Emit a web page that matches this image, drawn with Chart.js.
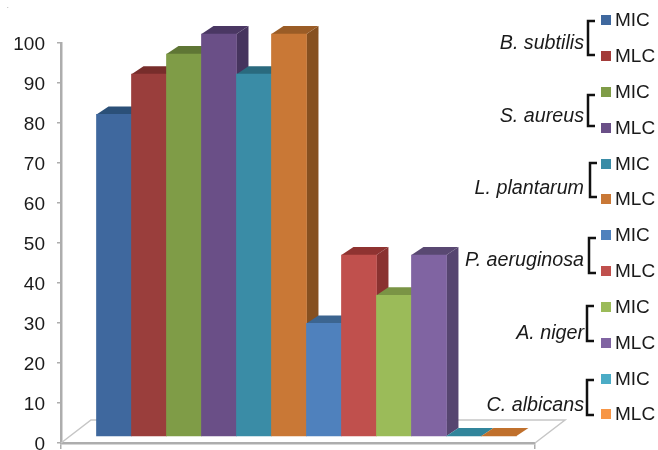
<!DOCTYPE html>
<html>
<head>
<meta charset="utf-8">
<title>MIC and MLC by organism</title>
<style>
  html, body { margin: 0; padding: 0; background: #fff; }
  canvas { display: block; }
</style>
<script src="https://cdn.jsdelivr.net/npm/chart.js@4"></script>
</head>
<body>
<canvas id="chart" width="658" height="450"></canvas>
<script>
// Activity of the extract against six organisms, two measures per organism.
const organisms = ['B. subtilis', 'S. aureus', 'L. plantarum', 'P. aeruginosa', 'A. niger', 'C. albicans'];
const measures = ['MIC', 'MLC'];
const values = [80, 90, 95, 100, 90, 100, 28, 45, 35, 45, 0, 0];
const yTicks = [0, 10, 20, 30, 40, 50, 60, 70, 80, 90, 100];

const frontColors = ['#3f689e', '#9a3e3c', '#7f9c47', '#6a4f87', '#3a8ca6', '#c97836',
                     '#4f81bd', '#c0504d', '#9bbb59', '#8064a2', '#31859b', '#c0702c'];
const topColors   = ['#2b5078', '#772d2b', '#5f7635', '#4a3763', '#2a6a7e', '#9a5c26',
                     '#3c6590', '#8f3331', '#7a9445', '#594872', '#31859b', '#c0702c'];
const sideColors  = ['#2b4e75', '#702a28', '#5a7032', '#46345e', '#276478', '#865020',
                     '#395f88', '#8a3230', '#748d41', '#564570', '#2a6a7e', '#9a5c26'];
const swatchColors = ['#3f689e', '#a33c3a', '#7f9c47', '#6a4f87', '#3a8ca6', '#c97836',
                      '#4f81bd', '#c0504d', '#9bbb59', '#8064a2', '#4bacc6', '#f79646'];

// Apparent depth of the bars and of the floor.
const barDepth = { dx: 12, dy: -8 };
const floorDepth = { dx: 30, dy: -23 };
const axisGrey = '#adadad';
const fontFamily = '"Liberation Sans", Arial, Helvetica, sans-serif';

// Top and right faces sit behind the bar fronts, which the library draws afterwards.
const solidBars = {
  id: 'solidBars',
  beforeDatasetsDraw(chart) {
    const { ctx, scales: { x, y } } = chart;
    const left = x.left, right = x.right, bottom = y.bottom;

    ctx.save();
    ctx.strokeStyle = '#c6c6c6';
    ctx.lineWidth = 1.5;
    ctx.beginPath();
    ctx.moveTo(left, bottom);
    ctx.lineTo(left + floorDepth.dx, bottom + floorDepth.dy);
    ctx.lineTo(right + floorDepth.dx, bottom + floorDepth.dy);
    ctx.lineTo(right, bottom);
    ctx.stroke();

    chart.getDatasetMeta(0).data.forEach((bar, i) => {
      const { x: cx, y: top, base, width } = bar.getProps(['x', 'y', 'base', 'width']);
      const l = cx - width / 2, r = cx + width / 2;
      ctx.fillStyle = sideColors[i];
      ctx.beginPath();
      ctx.moveTo(r, top);
      ctx.lineTo(r + barDepth.dx, top + barDepth.dy);
      ctx.lineTo(r + barDepth.dx, base + barDepth.dy);
      ctx.lineTo(r, base);
      ctx.closePath();
      ctx.fill();
      ctx.fillStyle = topColors[i];
      ctx.beginPath();
      ctx.moveTo(l, top);
      ctx.lineTo(l + barDepth.dx, top + barDepth.dy);
      ctx.lineTo(r + barDepth.dx, top + barDepth.dy);
      ctx.lineTo(r, top);
      ctx.closePath();
      ctx.fill();
    });
    ctx.restore();
  }
};

// Key on the right: each organism is bracketed with its two measures.
const organismKey = {
  id: 'organismKey',
  afterDraw(chart) {
    const ctx = chart.ctx;
    const swatchY = [20, 56, 92, 128, 164, 199, 235, 271, 307, 343, 379, 414];
    const labelY = [43, 116, 188, 260, 333, 405];
    const bracketX = [588, 588, 590, 589, 587, 587];
    const bracketTop = [21, 95, 163, 238, 306, 380];
    const bracketBottom = [55, 126, 197, 273, 341, 415];

    ctx.save();
    ctx.fillStyle = '#1a1a1a';
    ctx.font = '6px ' + fontFamily;
    ctx.textAlign = 'left';
    ctx.textBaseline = 'alphabetic';
    ctx.fillText('.', 7, 8);

    swatchY.forEach((cy, i) => {
      ctx.fillStyle = swatchColors[i];
      ctx.fillRect(601, cy - 5, 10, 10);
      ctx.fillStyle = '#1a1a1a';
      ctx.font = '19px ' + fontFamily;
      ctx.textAlign = 'left';
      ctx.textBaseline = 'middle';
      ctx.fillText(measures[i % 2], 615, cy + 1);
    });

    organisms.forEach((name, i) => {
      ctx.fillStyle = '#1a1a1a';
      ctx.font = 'italic 19.7px ' + fontFamily;
      ctx.textAlign = 'right';
      ctx.textBaseline = 'middle';
      ctx.fillText(name, 584, labelY[i] + 1);

      ctx.strokeStyle = '#111';
      ctx.lineWidth = 2.5;
      ctx.beginPath();
      ctx.moveTo(bracketX[i] + 7, bracketTop[i]);
      ctx.lineTo(bracketX[i], bracketTop[i]);
      ctx.lineTo(bracketX[i], bracketBottom[i]);
      ctx.lineTo(bracketX[i] + 7, bracketBottom[i]);
      ctx.stroke();
    });
    ctx.restore();
  }
};

new Chart(document.getElementById('chart'), {
  type: 'bar',
  data: {
    datasets: [{
      data: values.map((v, i) => ({ x: i, y: v })),
      backgroundColor: frontColors,
      borderWidth: 0,
      barThickness: 35,
      yAxisID: 'yFront',
      clip: false
    }]
  },
  options: {
    responsive: false,
    animation: false,
    layout: { padding: { left: 0, right: 123, top: 43, bottom: 0 } },
    plugins: { legend: { display: false }, tooltip: { enabled: false } },
    scales: {
      x: {
        type: 'linear',
        offset: false,
        min: -1.514,
        max: 12.03,
        afterBuildTicks(scale) { scale.ticks = [{ value: scale.min }, { value: scale.max }]; },
        afterFit(scale) { scale.height = 7; scale.paddingLeft = 0; scale.paddingRight = 0; },
        ticks: { display: false },
        grid: { offset: false, drawOnChartArea: false, drawTicks: true, tickLength: 6, color: axisGrey, lineWidth: 1.5 },
        border: { display: true, color: axisGrey, width: 2.5 }
      },
      y: {
        type: 'linear',
        position: 'left',
        min: 0,
        max: 100,
        afterBuildTicks(scale) { scale.ticks = yTicks.map(value => ({ value })); },
        afterFit(scale) { scale.width = 61; scale.paddingTop = 0; scale.paddingBottom = 0; },
        ticks: {
          color: '#1a1a1a',
          padding: 12,
          labelOffset: 2,
          font: { family: fontFamily, size: 19 }
        },
        grid: { drawOnChartArea: false, drawTicks: true, tickLength: 4, color: axisGrey, lineWidth: 1.5 },
        border: { display: true, color: axisGrey, width: 2.5 }
      },
      // Bar fronts stand on a plane set back from the axis wall.
      yFront: {
        type: 'linear',
        display: false,
        min: -1.741,
        max: 97.76
      }
    }
  },
  plugins: [solidBars, organismKey]
});
</script>
</body>
</html>
